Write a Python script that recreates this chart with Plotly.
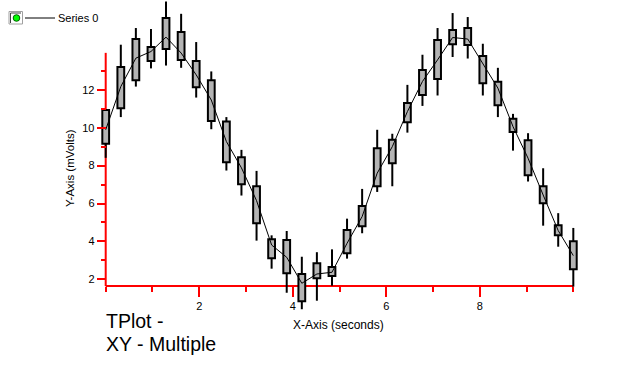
import plotly.graph_objects as go

# ---- data ----
x_vals = [0.0, 0.323, 0.645, 0.968, 1.290, 1.613, 1.935, 2.258, 2.581, 2.903,
          3.226, 3.548, 3.871, 4.194, 4.516, 4.839, 5.161, 5.484, 5.806, 6.129,
          6.452, 6.774, 7.097, 7.419, 7.742, 8.065, 8.387, 8.710, 9.032, 9.355,
          9.677, 10.0]
box_top = [10.94, 13.20, 14.68, 14.26, 15.79, 15.05, 13.52, 12.51, 10.33, 8.44,
           6.91, 4.11, 4.08, 2.28, 2.85, 2.65, 4.60, 5.87, 8.92, 9.36,
           11.30, 13.04, 14.63, 15.15, 15.26, 13.78, 12.42, 10.47, 9.34, 6.91,
           4.85, 4.01]
box_bottom = [9.15, 11.03, 12.51, 13.52, 14.15, 13.57, 12.14, 10.35, 8.18, 7.02,
              4.96, 3.11, 2.32, 0.84, 2.05, 2.17, 3.37, 4.80, 6.91, 8.13,
              10.29, 11.72, 12.57, 14.41, 14.36, 12.35, 11.19, 9.77, 7.49, 6.01,
              4.32, 2.53]
high_vals = [10.94, 14.38, 15.26, 15.21, 16.66, 16.01, 14.52, 12.97, 10.56, 8.83,
             7.72, 4.32, 4.55, 3.19, 3.43, 3.58, 5.20, 6.77, 9.89, 9.68,
             12.26, 13.85, 15.26, 16.05, 15.84, 14.43, 13.16, 10.73, 9.71, 7.86,
             5.49, 4.71]
low_vals = [8.41, 10.56, 12.17, 13.13, 13.28, 13.16, 11.59, 9.92, 7.74, 6.42,
            4.04, 2.56, 1.29, 0.42, 0.87, 1.66, 3.09, 4.43, 6.61, 6.91,
            9.74, 11.15, 11.70, 13.73, 13.65, 11.70, 10.56, 8.79, 7.16, 4.83,
            3.72, 1.61]
series0 = [9.89, 12.17, 13.67, 14.02, 14.78, 13.94, 12.79, 11.46, 9.27, 7.88,
           6.15, 3.81, 3.16, 1.79, 2.28, 2.37, 3.90, 5.31, 7.60, 9.00,
           10.85, 12.44, 13.58, 14.76, 14.68, 13.41, 12.09, 10.06, 8.39, 6.45,
           4.57, 3.25]
x_tick_vals = [2, 4, 6, 8]
x_minor_vals = [0, 1, 3, 5, 7, 9, 10]
y_tick_vals = [2, 4, 6, 8, 10, 12]
y_minor_vals = [3, 5, 7, 9, 11, 13]

W, H = 637, 382
X_RANGE = [-2.2605, 11.362]
Y_RANGE = [-3.42, 16.739]
X_AXIS_Y = 1.646
Y_AXIS_TOP = 13.95
RED = "#ff0000"
FONT = "Liberation Sans, Arial, sans-serif"


def px(xp):
    return xp / W


def py(yp):
    return 1 - yp / H


fig = go.Figure()

# whiskers: from low to box bottom and from box top to high
wx, wy = [], []
for xv, lo, hi, t, b in zip(x_vals, low_vals, high_vals, box_top, box_bottom):
    wx += [xv, xv, None, xv, xv, None]
    wy += [lo, b, None, t, hi, None]
fig.add_trace(go.Scatter(x=wx, y=wy, mode="lines",
                         line=dict(color="black", width=2),
                         hoverinfo="skip", showlegend=False))

# boxes
fig.add_trace(go.Bar(x=x_vals,
                     y=[t - b for t, b in zip(box_top, box_bottom)],
                     base=box_bottom, width=0.145,
                     marker=dict(color="#b4b4b4",
                                 line=dict(color="black", width=2)),
                     showlegend=False))

# line series
fig.add_trace(go.Scatter(x=x_vals, y=series0, mode="lines",
                         line=dict(color="black", width=1),
                         name="Series 0", showlegend=False))

shapes = [
    # axis lines
    dict(type="line", xref="x", yref="y", x0=0, x1=10, y0=X_AXIS_Y, y1=X_AXIS_Y,
         line=dict(color=RED, width=2), layer="below"),
    dict(type="line", xref="x", yref="y", x0=0, x1=0, y0=X_AXIS_Y, y1=Y_AXIS_TOP,
         line=dict(color=RED, width=2), layer="below"),
    # legend icon
    dict(type="rect", xref="paper", yref="paper", x0=px(9), x1=px(22.5), y0=py(24), y1=py(11.5),
         fillcolor="white", line=dict(color="#a0a0a0", width=1)),
    dict(type="line", xref="paper", yref="paper", x0=px(10.5), x1=px(21), y0=py(13), y1=py(13),
         line=dict(color="#404040", width=1)),
    dict(type="line", xref="paper", yref="paper", x0=px(10.5), x1=px(10.5), y0=py(13), y1=py(23),
         line=dict(color="#404040", width=1)),
    dict(type="circle", xref="paper", yref="paper", x0=px(13.2), x1=px(19.8), y0=py(21.3), y1=py(14.7),
         fillcolor="#00ff00", line=dict(color="#006000", width=1)),
    dict(type="line", xref="paper", yref="paper", x0=px(25), x1=px(55), y0=py(18), y1=py(18),
         line=dict(color="black", width=1)),
]

annotations = [
    dict(text="Series 0", xref="paper", yref="paper", x=px(55.5), y=py(18),
         xanchor="left", yanchor="middle", showarrow=False,
         font=dict(family=FONT, size=11, color="black")),
    dict(text="X-Axis (seconds)", xref="paper", yref="paper", x=px(338.5), y=py(324.5),
         xanchor="center", yanchor="middle", showarrow=False,
         font=dict(family=FONT, size=12, color="black")),
    dict(text="Y-Axis (mVolts)", xref="paper", yref="paper", x=px(70), y=py(168),
         xanchor="center", yanchor="middle", showarrow=False, textangle=-90,
         font=dict(family=FONT, size=11.5, color="black")),
    dict(text="TPlot -", xref="paper", yref="paper", x=px(104), y=py(321),
         xanchor="left", yanchor="middle", showarrow=False,
         font=dict(family=FONT, size=19.5, color="black")),
    dict(text="XY - Multiple", xref="paper", yref="paper", x=px(104), y=py(344),
         xanchor="left", yanchor="middle", showarrow=False,
         font=dict(family=FONT, size=19.5, color="black")),
]

fig.update_layout(
    width=W, height=H,
    margin=dict(l=0, r=0, t=0, b=0, pad=0),
    paper_bgcolor="white", plot_bgcolor="white",
    showlegend=False,
    shapes=shapes, annotations=annotations,
    font=dict(family=FONT, size=11, color="black"),
    xaxis=dict(range=X_RANGE, anchor="free", position=(H - 285.7) / H,
               showgrid=False, zeroline=False, showline=False,
               tickmode="array", tickvals=x_tick_vals,
               ticks="outside", ticklen=10, tickwidth=2, tickcolor=RED,
               tickfont=dict(family=FONT, size=11, color="black"),
               minor=dict(tickmode="array", tickvals=x_minor_vals, ticks="outside",
                          ticklen=5, tickwidth=2, tickcolor=RED, showgrid=False),
               automargin=False, fixedrange=True),
    yaxis=dict(range=Y_RANGE, anchor="free", position=105.7 / W,
               showgrid=False, zeroline=False, showline=False,
               tickmode="array", tickvals=y_tick_vals,
               ticks="outside", ticklen=9, tickwidth=2, tickcolor=RED,
               tickfont=dict(family=FONT, size=11, color="black"),
               minor=dict(tickmode="array", tickvals=y_minor_vals, ticks="outside",
                          ticklen=5, tickwidth=2, tickcolor=RED, showgrid=False),
               automargin=False, fixedrange=True),
)

fig.write_html("out.html")
